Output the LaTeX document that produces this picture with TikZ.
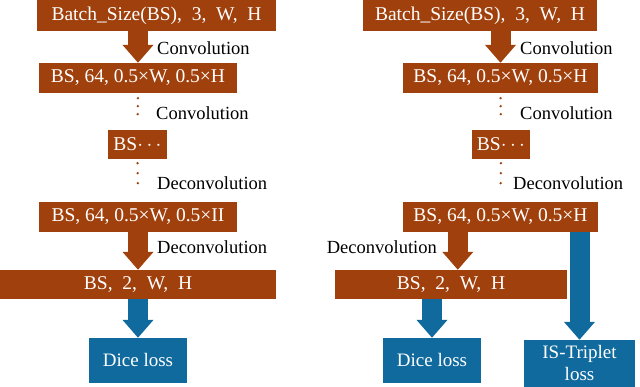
\documentclass[tikz,border=0pt]{standalone}
\usepackage{fontspec}
\setmainfont{Liberation Serif}
\usetikzlibrary{arrows.meta,positioning,calc}
\definecolor{featbrown}{RGB}{160,64,12}
\definecolor{lossblue}{RGB}{16,106,158}
\tikzset{
  fmap/.style={fill=featbrown, text=white, inner sep=0pt, minimum height=30pt, align=center, font=\fontsize{19.5}{22}\selectfont},
  lossbox/.style={fill=lossblue, text=white, inner sep=0pt, minimum height=45pt, align=center, font=\fontsize{19}{22}\selectfont},
  lbl/.style={inner sep=0pt, anchor=west, font=\fontsize{18.5}{21}\selectfont},
  brownarrow/.style={draw=featbrown, line width=20pt, -{Triangle[length=18pt, width=30pt]}},
  bluearrow/.style={draw=lossblue, line width=20pt, -{Triangle[length=18pt, width=30pt]}},
  dotline/.style={draw=featbrown, line width=2.6pt, line cap=round, dash pattern=on 0pt off 8pt},
}

\begin{document}
\begin{tikzpicture}[x=1pt, y=-1pt]
  \useasboundingbox (0,0) rectangle (640,387);

  % left branch
  \node[fmap, minimum width=239pt, minimum height=31pt] (b1) at (156.5,15.5) {Batch\_Size(BS),~ 3,~ W,~ H};
  \node[fmap, minimum width=198pt] (b2) at (138,78) {BS, 64, 0.5×W, 0.5×H};
  \node[fmap, minimum width=59pt, minimum height=29pt] (b3) at (137.5,144.5) {BS$\cdots$};
  \node[fmap, minimum width=198pt] (b4) at (138,217) {BS, 64, 0.5×W, 0.5×II};
  \node[fmap, minimum width=276pt, minimum height=29pt] (b5) at (138,284.5) {BS,~ 2,~ W,~ H};
  \node[lossbox, minimum width=98pt] (dice) at (138,360.5) {Dice loss};

  \draw[brownarrow] (b1.south -| b2) -- (b2.north);
  \draw[dotline, shorten <=5pt, shorten >=8pt] (b2.south) -- (b3.north);
  \draw[dotline, dash pattern=on 0pt off 10pt, shorten <=4pt, shorten >=9pt] (b3.south) -- (b4.north);
  \draw[brownarrow] (b4.south) -- (b5.north);
  \draw[bluearrow] (b5.south -| dice) -- (dice.north);

  \node[lbl] (c1) at (157,48) {Convolution};
  \node[lbl] (c2) at (156,113) {Convolution};
  \node[lbl] (d1) at (157,183) {Deconvolution};
  \node[lbl] (d2) at (157,247) {Deconvolution};

  % right branch
  \node[fmap, minimum width=234pt, minimum height=31pt] (rb1) at (480,15.5) {Batch\_Size(BS),~ 3,~ W,~ H};
  \node[fmap, minimum width=195pt] (rb2) at (500.5,78) {BS, 64, 0.5×W, 0.5×H};
  \node[fmap, minimum width=58pt, minimum height=29pt] (rb3) at (501,144.5) {BS$\cdots$};
  \node[fmap, minimum width=195pt] (rb4) at (500.5,217) {BS, 64, 0.5×W, 0.5×H};
  \node[fmap, minimum width=232pt, minimum height=29pt] (rb5) at (451,284.5) {BS,~ 2,~ W,~ H};
  \node[lossbox, minimum width=98pt] (rdice) at (432,360.5) {Dice loss};
  \node[lossbox, minimum width=111pt, minimum height=47pt] (trip) at (579.5,363.5) {IS-Triplet\\loss};

  \coordinate (rsplit) at ($(rb4.south west)+(55,0)$);
  \draw[brownarrow] (rb1.south -| rb2) -- (rb2.north);
  \draw[dotline, shorten <=5pt, shorten >=8pt] (rb2.south) -- (rb3.north);
  \draw[dotline, dash pattern=on 0pt off 10pt, shorten <=4pt, shorten >=9pt] (rb3.south) -- (rb4.north);
  \draw[brownarrow] (rsplit) -- (rsplit |- rb5.north);
  \draw[bluearrow] (rb5.south -| rdice) -- (rdice.north);
  \draw[bluearrow] (rb4.south -| trip) -- (trip.north);

  \node[lbl] (rc1) at (520,48) {Convolution};
  \node[lbl] (rc2) at (520,113) {Convolution};
  \node[lbl] (rd1) at (513,183) {Deconvolution};
  \node[lbl, anchor=east] (rd2) at (437,247) {Deconvolution};
\end{tikzpicture}
\end{document}
